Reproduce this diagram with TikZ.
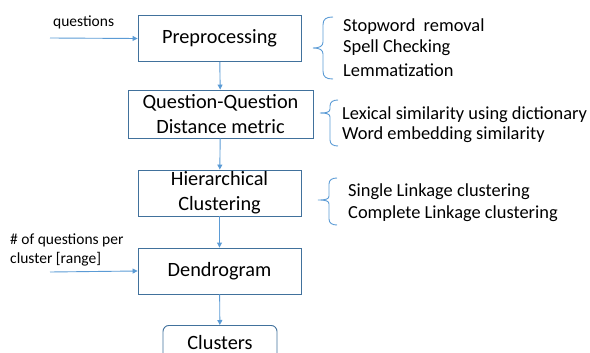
\documentclass[tikz,border=0pt]{standalone}
\usepackage{fontspec}
\setmainfont{Carlito}
\usetikzlibrary{arrows.meta}
\definecolor{boxline}{HTML}{41719C}
\definecolor{arrowc}{HTML}{5B9BD5}
\tikzset{
  procbox/.style={draw=boxline, line width=0.9pt, minimum width=163pt, minimum height=46pt, inner sep=0pt, align=center, font=\fontsize{20.3}{25}\selectfont},
  flow/.style={draw=arrowc, line width=0.9pt, -{Triangle[length=5pt,width=5pt]}},
  bracec/.style={draw=arrowc, line width=0.9pt},
  sidetext/.style={anchor=west, inner sep=0pt, align=left, font=\fontsize{18.4}{22}\selectfont},
  smalltext/.style={inner sep=0pt, align=left, font=\fontsize{15.5}{19.5}\selectfont},
}
\begin{document}
\begin{tikzpicture}[x=1pt,y=-1pt]
\useasboundingbox (0,0) rectangle (590,353);
\clip (0,0) rectangle (590,353);
\node[procbox] (pre) at (219.5,38.5) {Preprocessing};
\node[procbox, minimum width=185pt, minimum height=48pt] (qq) at (220.5,114) {Question-Question\\Distance metric};
\node[procbox] (hier) at (219.5,193) {Hierarchical\\Clustering};
\node[procbox] (den) at (219.5,271) {Dendrogram};
\node[procbox, rounded corners=6pt, minimum width=114pt, minimum height=44pt, anchor=north] (clu) at (220,325) {};
\node[font=\fontsize{20.3}{25}\selectfont, inner sep=0pt, anchor=base] (clut) at (220,349) {Clusters};

\draw[flow] (pre) -- (qq);
\draw[flow] (qq) -- (hier);
\draw[flow] (hier) -- (den);
\draw[flow] (den) -- (clu);

\coordinate (qin) at (50,38);
\draw[flow] (qin) -- (pre.west);
\node[smalltext, anchor=west] (qlab) at (53,22) {questions};

\coordinate (rin) at (50,272);
\draw[flow] (rin) -- (den.west);
\node[smalltext, anchor=west] (rlab) at (10,250) {\# of questions per\\cluster [range]};

% brace 1
\draw[bracec] (333,17) .. controls (326,17) and (323,19) .. (323,25) -- (323,42) .. controls (323,46) and (320,48) .. (313,48)
  .. controls (320,48) and (323,50) .. (323,54) -- (323,71) .. controls (323,77) and (326,79) .. (333,79);
\node[sidetext] (t11) at (343,27) {Stopword\ \ removal};
\node[sidetext] (t12) at (343,48) {Spell Checking};
\node[sidetext] (t13) at (343,70) {Lemmatization};

% brace 2
\draw[bracec] (338,100) .. controls (333,100) and (330,102) .. (330,106) -- (330,109) .. controls (330,112) and (327,113) .. (320,113)
  .. controls (327,113) and (330,114) .. (330,117) -- (330,140) .. controls (330,144) and (333,146) .. (338,146);
\node[sidetext] (t21) at (342,115) {Lexical similarity using dictionary};
\node[sidetext] (t22) at (342,135) {Word embedding similarity};

% brace 3
\draw[bracec] (337,178) .. controls (332,178) and (329,180) .. (329,184) -- (329,196) .. controls (329,199) and (326,200) .. (318,200)
  .. controls (326,200) and (329,201) .. (329,204) -- (329,219) .. controls (329,223) and (332,225) .. (337,225);
\node[sidetext] (t31) at (348,192) {Single Linkage clustering};
\node[sidetext] (t32) at (348,214) {Complete Linkage clustering};
\end{tikzpicture}
\end{document}
